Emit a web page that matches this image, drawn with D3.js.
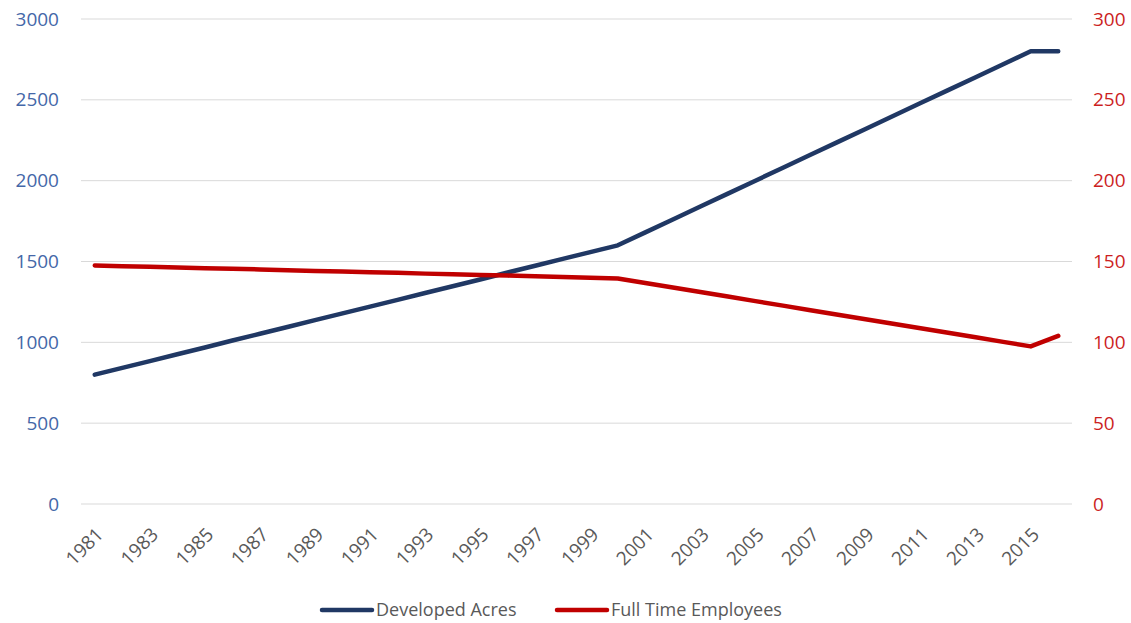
<!DOCTYPE html>
<html>
<head>
<meta charset="utf-8">
<script src="https://cdn.jsdelivr.net/npm/d3@7"></script>
<style>
  body { margin: 0; background: #fff; }
  svg { display: block; font-family: "Open Sans", sans-serif; }
</style>
</head>
<body>
<svg id="chart" width="1131" height="623"></svg>
<script>
var years = [1981, 1982, 1983, 1984, 1985, 1986, 1987, 1988, 1989, 1990,
  1991, 1992, 1993, 1994, 1995, 1996, 1997, 1998, 1999, 2000,
  2001, 2002, 2003, 2004, 2005, 2006, 2007, 2008, 2009, 2010,
  2011, 2012, 2013, 2014, 2015, 2016];

// developed acres, left axis
var acres = [800, 842, 884, 926, 968, 1011, 1053, 1095, 1137, 1179,
  1221, 1263, 1305, 1347, 1389, 1432, 1474, 1516, 1558, 1600,
  1680, 1760, 1840, 1920, 2000, 2080, 2160, 2240, 2320, 2400,
  2480, 2560, 2640, 2720, 2800, 2800];

// full time employees, right axis
var employees = [147.5, 147.1, 146.7, 146.3, 145.9, 145.5, 145.1, 144.6, 144.2, 143.8,
  143.4, 143, 142.5, 142.1, 141.7, 141.3, 140.8, 140.4, 140, 139.5,
  136.7, 133.9, 131.1, 128.3, 125.5, 122.7, 119.9, 117.1, 114.3, 111.5,
  108.7, 105.9, 103.1, 100.3, 97.5, 104];

var leftTicks = [0, 500, 1000, 1500, 2000, 2500, 3000];
var rightTicks = [0, 50, 100, 150, 200, 250, 300];
var seriesNames = ["Developed Acres", "Full Time Employees"];
var seriesColors = ["#203864", "#c00000"];

var svg = d3.select('#chart');
var plotLeft = 81, plotRight = 1072, plotTop = 19, plotBottom = 504;

var x = d3.scaleBand().domain(years).range([plotLeft, plotRight]);
var yL = d3.scaleLinear().domain([0, 3000]).range([plotBottom, plotTop]);
var yR = d3.scaleLinear().domain([0, 300]).range([plotBottom, plotTop]);

// gridlines
svg.append('g')
  .selectAll('line')
  .data(leftTicks)
  .enter().append('line')
    .attr('x1', plotLeft)
    .attr('x2', plotRight)
    .attr('y1', function(d){ return yL(d); })
    .attr('y2', function(d){ return yL(d); })
    .attr('stroke', '#d9d9d9')
    .attr('stroke-width', 1);

// left axis
var axL = svg.append('g')
  .attr('transform', 'translate(' + (plotLeft - 22) + ',0)')
  .call(d3.axisLeft(yL).tickValues(leftTicks).tickFormat(d3.format('d')).tickSize(0).tickPadding(0));
axL.select('.domain').remove();
axL.selectAll('text')
  .attr('fill', '#4467a8')
  .style('font-size', '19px')
  .style('font-family', '"Open Sans", sans-serif');

// right axis
var axR = svg.append('g')
  .attr('transform', 'translate(' + (plotRight + 21) + ',0)')
  .call(d3.axisRight(yR).tickValues(rightTicks).tickFormat(d3.format('d')).tickSize(0).tickPadding(0));
axR.select('.domain').remove();
axR.selectAll('text')
  .attr('fill', '#cc1f1f')
  .style('font-size', '19px')
  .style('font-family', '"Open Sans", sans-serif');

// x axis
var axX = svg.append('g')
  .attr('transform', 'translate(0,' + plotBottom + ')')
  .call(d3.axisBottom(x)
    .tickValues(years.filter(function(d, i){ return i % 2 === 0; }))
    .tickFormat(d3.format('d'))
    .tickSize(0).tickPadding(0));
axX.select('.domain').remove();
axX.selectAll('text')
  .attr('fill', '#595959')
  .style('font-size', '19px')
  .style('font-family', '"Open Sans", sans-serif')
  .attr('text-anchor', 'end')
  .attr('y', 0)
  .attr('dy', '0.35em')
  .attr('transform', 'translate(5,27) rotate(-45)');

var cx = function(d, i){ return x(years[i]) + x.bandwidth() / 2; };

svg.append('path')
  .datum(acres)
  .attr('fill', 'none')
  .attr('stroke', seriesColors[0])
  .attr('stroke-width', 4.5)
  .attr('stroke-linecap', 'round')
  .attr('stroke-linejoin', 'round')
  .attr('d', d3.line().x(cx).y(function(d){ return yL(d); }));

svg.append('path')
  .datum(employees)
  .attr('fill', 'none')
  .attr('stroke', seriesColors[1])
  .attr('stroke-width', 4.5)
  .attr('stroke-linecap', 'round')
  .attr('stroke-linejoin', 'round')
  .attr('d', d3.line().x(cx).y(function(d){ return yR(d); }));

// legend
var legendX = [322, 557];
var legend = svg.append('g')
  .selectAll('g')
  .data(seriesNames)
  .enter().append('g')
    .attr('transform', function(d, i){ return 'translate(' + legendX[i] + ',610)'; });
legend.append('line')
  .attr('x1', 0).attr('x2', 50)
  .attr('stroke', function(d, i){ return seriesColors[i]; })
  .attr('stroke-width', 4.5)
  .attr('stroke-linecap', 'round');
legend.append('text')
  .attr('x', 54)
  .attr('dy', '0.35em')
  .attr('fill', '#595959')
  .style('font-size', '18px')
  .text(function(d){ return d; });
</script>
</body>
</html>
